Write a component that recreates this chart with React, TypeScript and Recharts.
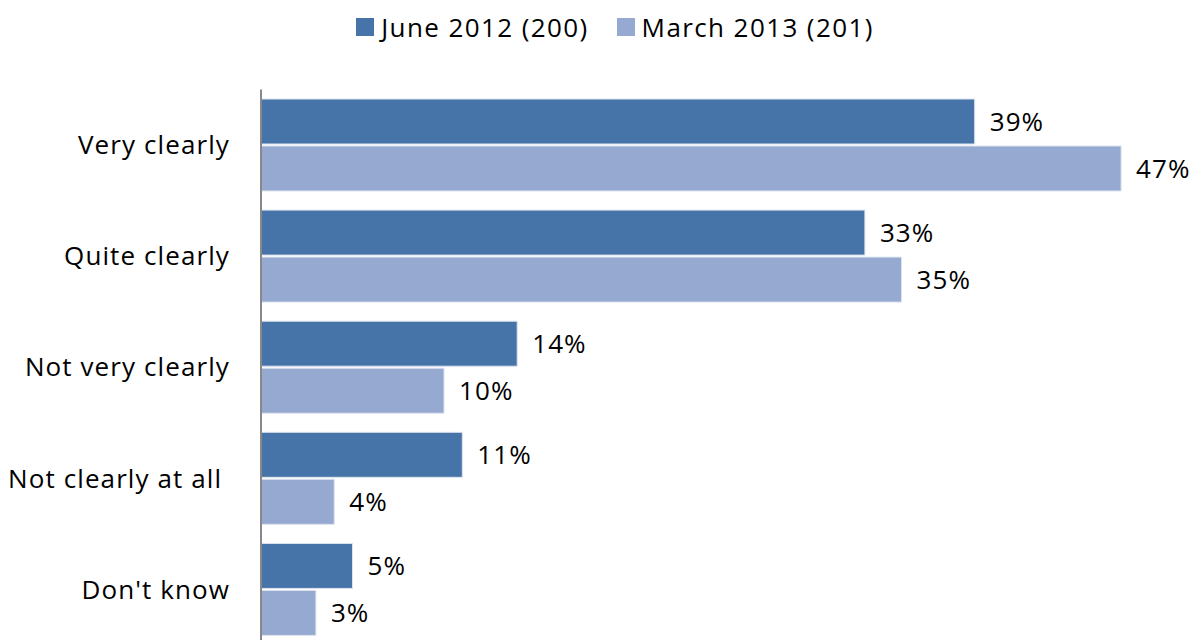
import { BarChart, Bar, XAxis, YAxis, Legend, LabelList } from 'recharts';

const CATEGORIES = ['Very clearly', 'Quite clearly', 'Not very clearly', 'Not clearly at all ', "Don't know"];
const JUNE_2012 = [39, 33, 14, 11, 5];
const MARCH_2013 = [47, 35, 10, 4, 3];

const SERIES = [
  { key: 'june', name: 'June 2012 (200)', color: '#4674A8' },
  { key: 'march', name: 'March 2013 (201)', color: '#95A9D1' },
];

const FONT = '"Open Sans", Lato, sans-serif';
const TEXT_STYLE = { fill: '#000', fontSize: 26, fontFamily: FONT, letterSpacing: 1.1 };

const data = CATEGORIES.map((name, i) => ({
  name,
  june: JUNE_2012[i],
  march: MARCH_2013[i],
}));

function LegendContent() {
  return (
    <div
      style={{
        display: 'flex',
        justifyContent: 'center',
        gap: 28,
        paddingLeft: 29,
        fontFamily: FONT,
        fontSize: 26,
        letterSpacing: 1.4,
        lineHeight: '30px',
        color: '#000',
      }}
    >
      {SERIES.map((s) => (
        <div key={s.key} style={{ display: 'flex', alignItems: 'center', gap: 7 }}>
          <span style={{ display: 'inline-block', width: 18, height: 18, background: s.color }} />
          <span>{s.name}</span>
        </div>
      ))}
    </div>
  );
}

export default function App() {
  return (
    <div style={{ position: 'absolute', top: 0, left: 0, width: 1201, height: 640, overflow: 'hidden', background: '#fff' }}>
      <BarChart
        width={1201}
        height={645}
        data={data}
        layout="vertical"
        margin={{ top: 59.5, right: 25, bottom: 0, left: 0 }}
        barCategoryGap={9.5}
        barGap={2}
      >
        <XAxis type="number" domain={[0, 50]} hide />
        <YAxis
          type="category"
          dataKey="name"
          width={261}
          tickLine={false}
          axisLine={{ stroke: '#888', strokeWidth: 2 }}
          tickMargin={25}
          tick={{ ...TEXT_STYLE, style: { whiteSpace: 'pre' } }}
        />
        <Legend verticalAlign="top" content={<LegendContent />} wrapperStyle={{ top: 12, left: 0, width: 1201 }} />
        {SERIES.map((s) => (
          <Bar key={s.key} dataKey={s.key} name={s.name} fill={s.color} stroke="#dde3ee" strokeWidth={1} isAnimationActive={false}>
            <LabelList
              dataKey={s.key}
              position="right"
              offset={15}
              formatter={(v: number) => `${v}%`}
              style={TEXT_STYLE}
            />
          </Bar>
        ))}
      </BarChart>
    </div>
  );
}
